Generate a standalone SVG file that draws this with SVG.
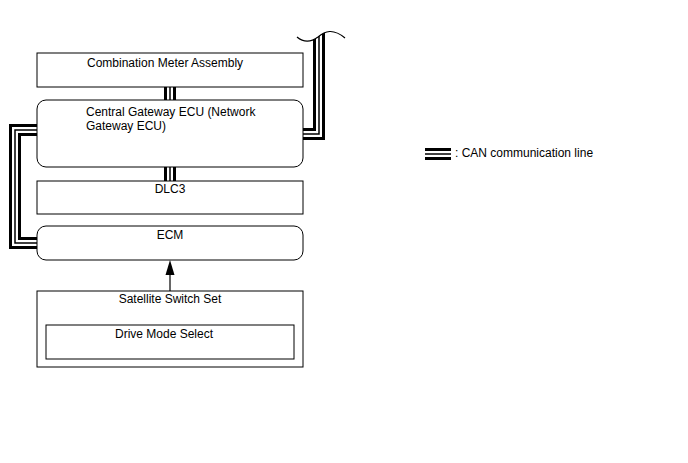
<svg xmlns="http://www.w3.org/2000/svg" width="688" height="463" viewBox="0 0 688 463">
<style>
.box{fill:#fff;stroke:#000;stroke-width:1}
.t{font-family:"Liberation Sans",Arial,sans-serif;font-size:12px;fill:#000}
.c1{fill:none;stroke:#000;stroke-width:12;stroke-linejoin:miter}
.c2{fill:none;stroke:#fff;stroke-width:6;stroke-linejoin:miter}
.c3{fill:none;stroke:#000;stroke-width:1.5;stroke-linejoin:miter}
</style>
<defs>
<clipPath id="below">
<path d="M290,37 C303,42 310,43 318,37 C325,31 333,28 345,38 L345,200 L290,200 Z"/>
</clipPath>
</defs>
<g id="connectors">
<g id="can-meter-gw">
<path class="c1" d="M170,85 V102"/><path class="c2" d="M170,85 V102"/><path class="c3" d="M170,85 V102"/>
</g>
<g id="can-gw-dlc3">
<path class="c1" d="M170,165 V183"/><path class="c2" d="M170,165 V183"/><path class="c3" d="M170,165 V183"/>
</g>
<g id="can-gw-ecm">
<path class="c1" d="M38,130 H15 V243 H38"/><path class="c2" d="M38,130 H15 V243 H38"/><path class="c3" d="M38,130 H15 V243 H38"/>
</g>
<g id="can-gw-out" clip-path="url(#below)">
<path class="c1" d="M302,134 H319 V20"/><path class="c2" d="M302,134 H319 V20"/><path class="c3" d="M302,134 H319 V20"/>
</g>
<path d="M297,37 C303,42 310,43 318,37 C325,31 333,28 345,38" fill="none" stroke="#000" stroke-width="1.2"/>
<g id="arrow-sw-ecm">
<line x1="170" y1="291" x2="170" y2="274" stroke="#000" stroke-width="1.2"/>
<polygon points="170,260 165.5,275 174.5,275" fill="#000"/>
</g>
</g>
<g id="meter">
<rect class="box" x="37" y="53" width="266" height="34"/>
<text class="t" x="87" y="67">Combination Meter Assembly</text>
</g>
<g id="gateway">
<rect class="box" x="37" y="100" width="266" height="67" rx="9"/>
<text class="t" x="86" y="116">Central Gateway ECU (Network</text>
<text class="t" x="86" y="130">Gateway ECU)</text>
</g>
<g id="dlc3">
<rect class="box" x="37" y="181" width="266" height="33"/>
<text class="t" x="170" y="193" text-anchor="middle">DLC3</text>
</g>
<g id="ecm">
<rect class="box" x="37" y="226" width="266" height="34" rx="9"/>
<text class="t" x="170" y="239" text-anchor="middle">ECM</text>
</g>
<g id="satellite">
<rect class="box" x="37" y="291" width="266" height="76"/>
<text class="t" x="170" y="303" text-anchor="middle">Satellite Switch Set</text>
</g>
<g id="drive-mode">
<rect class="box" x="46" y="325" width="248" height="34"/>
<text class="t" x="164" y="338" text-anchor="middle">Drive Mode Select</text>
</g>
<g id="legend">
<path class="c1" d="M425,154 H451"/><path class="c2" d="M425,154 H451"/><path class="c3" d="M425,154 H451"/>
<text class="t" x="455" y="157">: CAN communication line</text>
</g>
</svg>
